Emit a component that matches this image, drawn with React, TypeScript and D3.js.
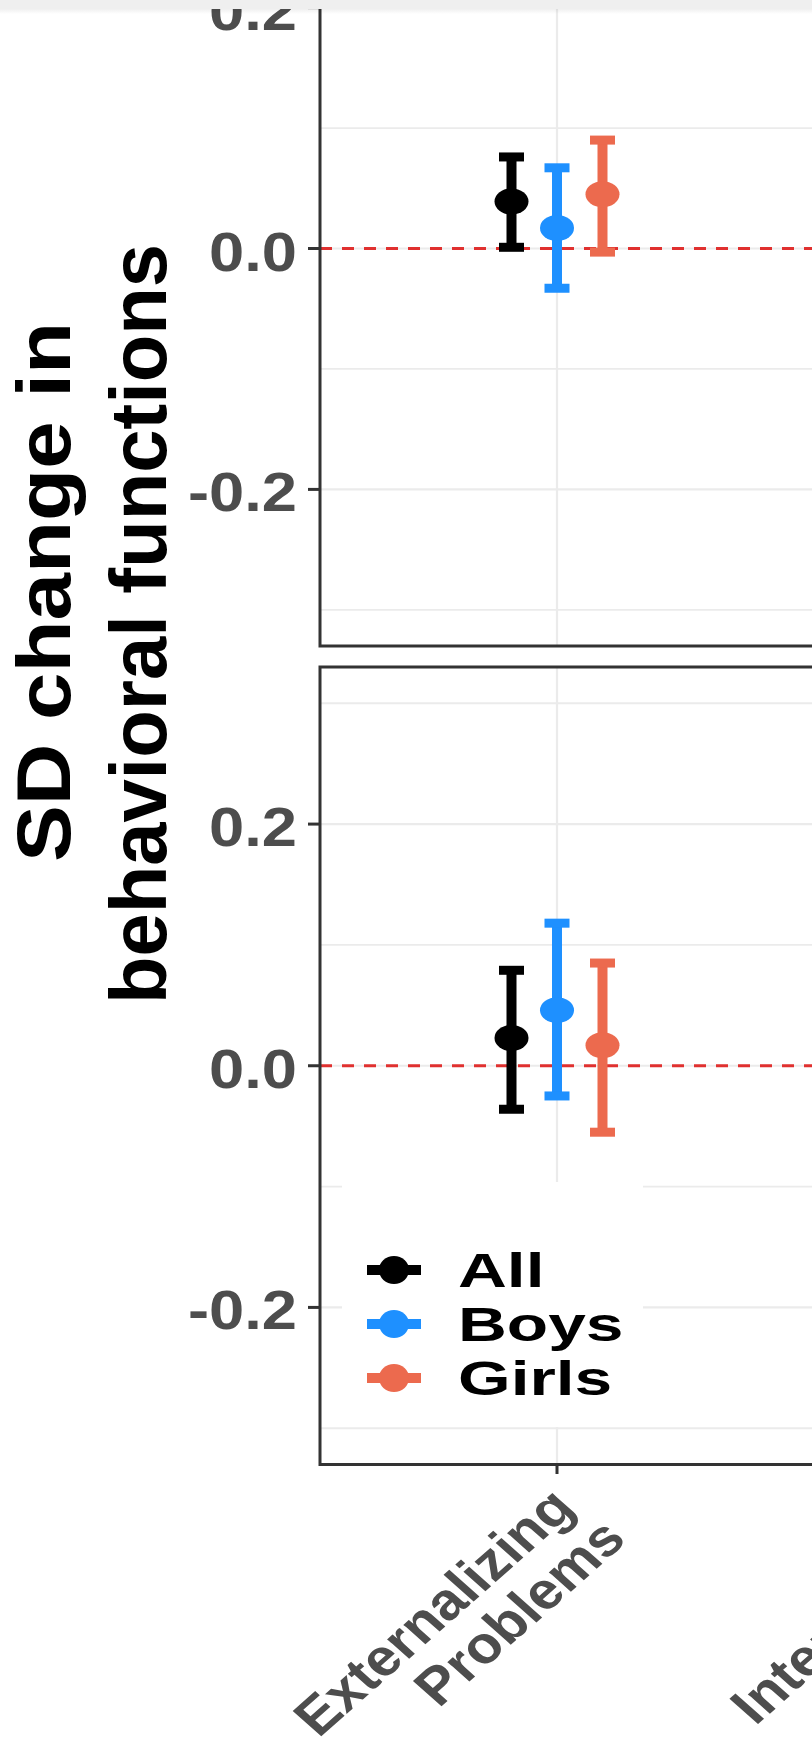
import React from "react";
import * as d3 from "d3";

// ---- data ----
const categories = [["Externalizing", "Problems"], ["Internalizing", "Problems"]];
const groups = ["All", "Boys", "Girls"];
const groupColors = ["#000000", "#1E90FF", "#EC6A4E"];

// top panel (Externalizing Problems)
const estTop = [0.039, 0.017, 0.045];
const loTop = [0.001, -0.033, -0.003];
const hiTop = [0.076, 0.067, 0.09];
// bottom panel (Externalizing Problems)
const estBot = [0.023, 0.046, 0.017];
const loBot = [-0.036, -0.025, -0.055];
const hiBot = [0.079, 0.118, 0.085];

const majorTicks = [-0.2, 0, 0.2];
const majorLabels = ["-0.2", "0.0", "0.2"];
const minorTicks = [-0.3, -0.1, 0.1, 0.3];
const yTitleLines = ["SD change in", "behavioral functions"];

const W = 812;
const H = 1740;
const FONT = "'Liberation Sans', Arial, Helvetica, sans-serif";
const SX = 1.13; // horizontal stretch of the x labels

const panelLeft = 320;
const panelRight = 1250;
const yDomain: [number, number] = [-0.33, 0.33];
const panelsDef = [
  { top: -149, bottom: 646, est: estTop, lo: loTop, hi: hiTop },
  { top: 667, bottom: 1464.5, est: estBot, lo: loBot, hi: hiBot },
];

const xCat = d3.scaleLinear().domain([0, 1]).range([557, 980]);
const dodge = d3.scaleLinear().domain([0, 2]).range([-45.5, 45.5]);

export default function App() {
  const gridColor = "#ebebeb";
  return (
    <svg
      width={W}
      height={H}
      style={{ position: "absolute", left: 0, top: 0, background: "#fff" }}
      fontFamily={FONT}
    >
      <rect x={0} y={0} width={W} height={H} fill="#fff" />
      {panelsDef.map((p, pi) => {
        const y = d3.scaleLinear().domain(yDomain).range([p.bottom, p.top]);
        const isBottom = pi === 1;
        return (
          <g key={pi}>
            {/* grid */}
            {minorTicks.map((t) => (
              <line key={"mn" + t} x1={panelLeft} x2={panelRight} y1={y(t)} y2={y(t)} stroke={gridColor} strokeWidth={1.8} />
            ))}
            {majorTicks.map((t) => (
              <line key={"mj" + t} x1={panelLeft} x2={panelRight} y1={y(t)} y2={y(t)} stroke={gridColor} strokeWidth={2.2} />
            ))}
            {categories.map((c, ci) => (
              <line key={"v" + ci} x1={xCat(ci)} x2={xCat(ci)} y1={p.top} y2={p.bottom} stroke={gridColor} strokeWidth={2.2} />
            ))}
            {/* reference line */}
            <line x1={panelLeft} x2={panelRight} y1={y(0)} y2={y(0)} stroke="#e0302f" strokeWidth={3} strokeDasharray="12 10" />
            {/* error bars */}
            {groups.map((g, gi) => {
              const cx = xCat(0) + dodge(gi);
              const col = groupColors[gi];
              return (
                <g key={g}>
                  <rect x={cx - 5} y={y(p.hi[gi])} width={10} height={y(p.lo[gi]) - y(p.hi[gi])} fill={col} />
                  <rect x={cx - 12.5} y={y(p.hi[gi]) - 4.5} width={25} height={9} fill={col} />
                  <rect x={cx - 12.5} y={y(p.lo[gi]) - 4.5} width={25} height={9} fill={col} />
                  <ellipse cx={cx} cy={y(p.est[gi])} rx={17} ry={13} fill={col} />
                </g>
              );
            })}
            {/* legend */}
            {isBottom && (
              <g>
                <rect x={342} y={1182} width={301} height={245} fill="#fff" />
                {groups.map((g, gi) => {
                  const ly = 1270 + gi * 54;
                  return (
                    <g key={"lg" + g}>
                      <line x1={367} x2={421} y1={ly} y2={ly} stroke={groupColors[gi]} strokeWidth={10} />
                      <ellipse cx={394} cy={ly} rx={15} ry={14} fill={groupColors[gi]} />
                      <g transform={`translate(458, ${ly + 17}) scale(${1.41}, 1)`}>
                        <text x={0} y={0} fontSize={48} fontWeight="bold" fill="#000">
                          {g}
                        </text>
                      </g>
                    </g>
                  );
                })}
              </g>
            )}
            {/* border */}
            <rect x={panelLeft} y={p.top} width={panelRight - panelLeft} height={p.bottom - p.top} fill="none" stroke="#333" strokeWidth={3} />
            {/* y ticks */}
            {majorTicks.map((t, ti) => (
              <g key={"yt" + t}>
                <line x1={308} x2={panelLeft} y1={y(t)} y2={y(t)} stroke="#333" strokeWidth={3} />
                <g transform={`translate(297, ${y(t) + 22}) scale(1.13, 1)`}>
                  <text x={0} y={0} textAnchor="end" fontSize={56} fontWeight="bold" fill="#4d4d4d">
                    {majorLabels[ti]}
                  </text>
                </g>
              </g>
            ))}
          </g>
        );
      })}
      {/* x ticks and labels */}
      {categories.map((c, ci) => {
        const bx = xCat(ci) + 20;
        return (
          <g key={"xl" + ci}>
            <line x1={xCat(ci)} x2={xCat(ci)} y1={1464.5} y2={1474} stroke="#333" strokeWidth={3} />
            <g transform={`translate(${bx}, 1510) scale(${SX}, 1) rotate(-45)`}>
              {c.map((line, li) => (
                <text key={li} x={li * 10} y={li * 54} textAnchor="end" fontSize={52} fontWeight="bold" fill="#4d4d4d">
                  {line}
                </text>
              ))}
            </g>
          </g>
        );
      })}
      {/* y title */}
      <g transform="translate(70, 592) rotate(-90)">
        <text x={0} y={0} textAnchor="middle" fontSize={76} fontWeight="bold" fill="#000" textLength={540} lengthAdjust="spacingAndGlyphs">
          {yTitleLines[0]}
        </text>
      </g>
      <g transform="translate(166, 624) rotate(-90)">
        <text x={0} y={0} textAnchor="middle" fontSize={80} fontWeight="bold" fill="#000" textLength={760} lengthAdjust="spacingAndGlyphs">
          {yTitleLines[1]}
        </text>
      </g>
      {/* top grey band */}
      <defs>
        <linearGradient id="shade" x1="0" y1="0" x2="0" y2="1">
          <stop offset="0" stopColor="#000" stopOpacity={0.06} />
          <stop offset="1" stopColor="#000" stopOpacity={0} />
        </linearGradient>
      </defs>
      <rect x={0} y={0} width={W} height={9} fill="#efefef" />
      <rect x={0} y={9} width={W} height={5} fill="url(#shade)" />
    </svg>
  );
}
